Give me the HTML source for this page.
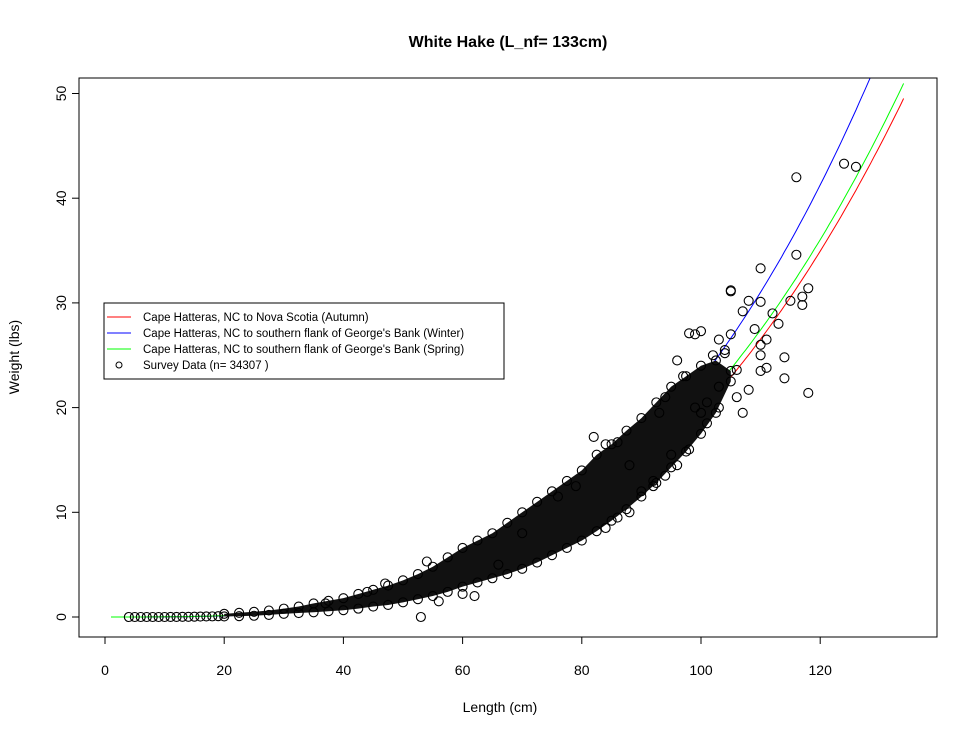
<!DOCTYPE html>
<html><head><meta charset="utf-8"><style>
body{margin:0;background:#fff}
svg{display:block;font-family:"Liberation Sans",Arial,sans-serif}
</style></head><body>
<svg id="chart" width="976" height="736" viewBox="0 0 976 736">
<text x="508" y="47" text-anchor="middle" font-size="16" font-weight="bold">White Hake (L_nf= 133cm)</text>
<g id="plot"></g>
<g id="axes"></g>
<text x="500" y="712" text-anchor="middle" font-size="14">Length (cm)</text>
<text transform="translate(19,357) rotate(-90)" text-anchor="middle" font-size="14">Weight (lbs)</text>
<g>
<rect x="104" y="303" width="400" height="76" fill="#fff" stroke="#000" stroke-width="1"/>
<line x1="107" y1="317" x2="131" y2="317" stroke="#f00"/>
<text x="143" y="321" font-size="11.5">Cape Hatteras, NC to Nova Scotia (Autumn)</text>
<line x1="107" y1="333" x2="131" y2="333" stroke="#00f"/>
<text x="143" y="337" font-size="11.5">Cape Hatteras, NC to southern flank of George's Bank (Winter)</text>
<line x1="107" y1="349" x2="131" y2="349" stroke="#0f0"/>
<text x="143" y="353" font-size="11.5">Cape Hatteras, NC to southern flank of George's Bank (Spring)</text>
<circle cx="119" cy="365" r="3" fill="none" stroke="#000"/>
<text x="143" y="369" font-size="11.5">Survey Data (n= 34307 )</text>
</g>
<rect x="79" y="78" width="858" height="559" fill="none" stroke="#000"/>
</svg>
<script>
const xTicks=[0,20,40,60,80,100,120];
const yTicks=[0,10,20,30,40,50];
// band of dense survey data: length, low weight, high weight
const bandLen=[20,22.5,25,27.5,30,32.5,35,37.5,40,42.5,45,47.5,50,52.5,55,57.5,60,62.5,65,67.5,70,72.5,75,77.5,80,82.5,85,87.5,90,92.5,95,97.5,100,102.5,105];
const bandLo=[0.05,0.08,0.12,0.2,0.3,0.38,0.45,0.55,0.65,0.8,1.0,1.15,1.4,1.7,2.0,2.4,2.9,3.3,3.7,4.1,4.6,5.2,5.9,6.6,7.3,8.2,9.2,10.3,11.5,12.8,14.3,15.8,17.5,19.5,22.5];
const bandHi=[0.3,0.4,0.5,0.62,0.8,1.0,1.3,1.55,1.8,2.2,2.6,3.0,3.5,4.1,4.8,5.7,6.6,7.3,8.0,9.0,10,11,12,13,14,15.5,16.5,17.8,19,20.5,22,23,24,24.5,23.5];
// small fish row
const smallLen=[4,5,6,7,8,9,10,11,12,13,14,15,16,17,18,19];
const smallW=[0,0,0,0,0,0,0,0.01,0.01,0.02,0.02,0.03,0.04,0.05,0.06,0.08];
// scattered individual points
const ptLen=[53,116,124,126,116,110,105,118,117,115,117,112,110,108,113,114,114,118,110,111,110,110,111,108,106,107,105,103,99,100,96,102,104,103,106,101,97,99,107,100,94,82,84,86,93,95,88,92,90,79,76,70,66,62,60,56,54,37,44,47,105,98,109,104,98,96,94,92,101,103,86,84,88];
const ptW=[0,42,43.3,43,34.6,33.3,31.2,31.4,30.6,30.2,29.8,29,30.1,30.2,28,24.8,22.8,21.4,26,26.5,25,23.5,23.8,21.7,23.6,29.2,27,26.5,27,27.3,24.5,25,25.5,22,21,20.5,23,20,19.5,19.5,21,17.2,16.5,16.7,19.5,15.5,14.5,13,12,12.5,11.5,8,5,2,2.2,1.5,5.3,1.3,2.4,3.2,31.1,27.1,27.5,25.2,16,14.5,13.5,12.5,18.5,20,9.5,8.5,10];
// fitted curves W = a*L^b
const curveA=[9.4e-6,6.25e-6,1.067e-5];
const curveB=[3.16,3.28,3.14];
const curveColors=["#f00","#00f","#0f0"];
const curveNames=["curve-autumn","curve-winter","curve-spring"];

const X=v=>105+v*5.96, Y=v=>617-v*10.47;
const NS="http://www.w3.org/2000/svg";
const plot=document.getElementById('plot'), axes=document.getElementById('axes');
function mk(tag,at,parent){const e=document.createElementNS(NS,tag);for(const k in at)e.setAttribute(k,at[k]);parent.appendChild(e);return e;}
const cp=mk('clipPath',{id:'clip'},plot);mk('rect',{x:79,y:78,width:858,height:559},cp);
const g=mk('g',{'clip-path':'url(#clip)'},plot);
// curves (under points)
curveA.forEach((a,k)=>{let s='';for(let L=1;L<=134;L+=0.5){s+=(L===1?'M':'L')+X(L).toFixed(1)+' '+Y(a*Math.pow(L,curveB[k])).toFixed(1);}
const p=mk('path',{d:s,fill:'none',stroke:curveColors[k],'stroke-width':1},g);

});
// band
let d='';bandLen.forEach((l,i)=>{d+=(i?'L':'M')+X(l)+' '+Y(bandHi[i]);});
for(let i=bandLen.length-1;i>=0;i--)d+='L'+X(bandLen[i])+' '+Y(bandLo[i]);
const band=mk('path',{d:d+'Z',fill:'#111'},g);


function pt(l,w,name){const c=mk('circle',{cx:X(l),cy:Y(w),r:4.5,fill:'none',stroke:'#000','stroke-width':1.1},g);

}
bandLen.forEach((l,i)=>{pt(l,bandLo[i],'survey-point');pt(l,bandHi[i],'survey-point');});
smallLen.forEach((l,i)=>pt(l,smallW[i],'survey-point'));
ptLen.forEach((l,i)=>pt(l,ptW[i],'survey-point'));
// axes
mk('line',{x1:X(xTicks[0]),x2:X(xTicks[xTicks.length-1]),y1:637,y2:637,stroke:'#000'},axes);
xTicks.forEach(t=>{mk('line',{x1:X(t),x2:X(t),y1:637,y2:644,stroke:'#000'},axes);
const tx=mk('text',{x:X(t),y:675,'text-anchor':'middle','font-size':14},axes);tx.textContent=t;

});
mk('line',{x1:79,x2:79,y1:Y(yTicks[0]),y2:Y(yTicks[yTicks.length-1]),stroke:'#000'},axes);
yTicks.forEach(t=>{mk('line',{x1:72,x2:79,y1:Y(t),y2:Y(t),stroke:'#000'},axes);
const tx=mk('text',{transform:`translate(66,${Y(t)}) rotate(-90)`,'text-anchor':'middle','font-size':14},axes);tx.textContent=t;

});
</script>
</body></html>
